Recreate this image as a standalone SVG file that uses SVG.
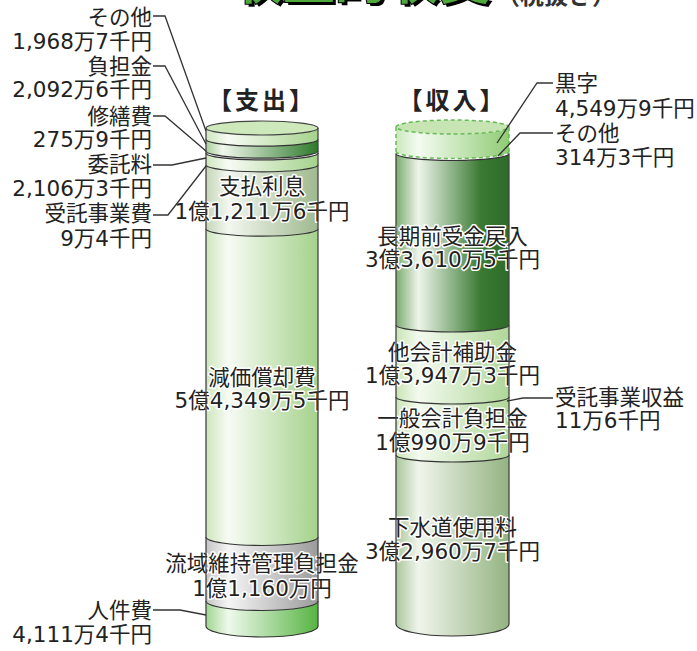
<svg xmlns="http://www.w3.org/2000/svg" width="697" height="651" viewBox="0 0 697 651">
<style>
.t{font-family:"DejaVu Sans","Noto Sans CJK JP",sans-serif;font-size:21.5px;fill:#222}
.e{text-anchor:end}
.m{text-anchor:middle}
.h{stroke:#fff;stroke-width:3;stroke-linejoin:round;paint-order:stroke}
.hd{font-family:"Noto Sans CJK JP",sans-serif;font-size:24px;font-weight:bold;letter-spacing:3px;fill:#222}
.ln{fill:none;stroke:#333;stroke-width:1.2}
.side{fill:none;stroke:#444;stroke-width:1.3}
.dash{fill:none;stroke:#66bb55;stroke-width:1.5;stroke-dasharray:4 3}
.lead{fill:none;stroke:#333;stroke-width:1.3}
</style>
<defs>
<linearGradient id="gLight" x1="0" x2="1" y1="0" y2="0"><stop offset="0" stop-color="#cde6bd"/><stop offset="0.2" stop-color="#f7fbf4"/><stop offset="1" stop-color="#a4d28b"/></linearGradient>
<linearGradient id="gDark" x1="0" x2="1" y1="0" y2="0"><stop offset="0" stop-color="#a8cf98"/><stop offset="0.15" stop-color="#f0f7ec"/><stop offset="1" stop-color="#2d7a2a"/></linearGradient>
<linearGradient id="gLong" x1="0" x2="1" y1="0" y2="0"><stop offset="0" stop-color="#7aab6e"/><stop offset="0.2" stop-color="#eef5ea"/><stop offset="0.75" stop-color="#3a7a33"/><stop offset="1" stop-color="#2c6c27"/></linearGradient>
<linearGradient id="gGG" x1="0" x2="1" y1="0" y2="0"><stop offset="0" stop-color="#c5d6b8"/><stop offset="0.2" stop-color="#f3f7f0"/><stop offset="1" stop-color="#9fb98f"/></linearGradient>
<linearGradient id="gGray" x1="0" x2="1" y1="0" y2="0"><stop offset="0" stop-color="#c4c4c4"/><stop offset="0.2" stop-color="#f5f5f5"/><stop offset="1" stop-color="#9b9b9b"/></linearGradient>
<linearGradient id="gMid" x1="0" x2="1" y1="0" y2="0"><stop offset="0" stop-color="#9fd68f"/><stop offset="0.2" stop-color="#eff9ec"/><stop offset="1" stop-color="#57b443"/></linearGradient>
<linearGradient id="gKuro" x1="0" x2="1" y1="0" y2="0"><stop offset="0" stop-color="#cbe8bc"/><stop offset="0.2" stop-color="#f4fbf1"/><stop offset="1" stop-color="#8fcc74"/></linearGradient>
<linearGradient id="gRL" x1="0" x2="1" y1="0" y2="0"><stop offset="0" stop-color="#c9e5b5"/><stop offset="0.2" stop-color="#f3faef"/><stop offset="1" stop-color="#afd798"/></linearGradient>
<linearGradient id="gGS" x1="0" x2="1" y1="0" y2="0"><stop offset="0" stop-color="#aac79b"/><stop offset="0.2" stop-color="#f0f5ec"/><stop offset="1" stop-color="#93b381"/></linearGradient>
</defs>
<rect width="697" height="651" fill="#fff"/>

<g id="title">
<text x="364" y="2" style="font-family:'Noto Sans CJK JP',sans-serif;font-size:52px;font-weight:bold;text-anchor:middle;fill:#000">収益的収支</text>
<text x="361" y="-1" style="font-family:'Noto Sans CJK JP',sans-serif;font-size:52px;font-weight:bold;text-anchor:middle;fill:#4ea83c;stroke:#000;stroke-width:2;paint-order:stroke">収益的収支</text>
<text x="496" y="4" style="font-family:'Noto Sans CJK JP',sans-serif;font-size:24px;font-weight:bold;fill:#333">（税抜き）</text>
</g>

<g id="expense">
<text x="262" y="109" class="hd m">【支出】</text>
<g id="ex-sonota"><path d="M206,128 A56,7 0 0 0 318,128 V139.2 A56,7 0 0 1 206,139.2 Z" fill="url(#gLight)"/></g>
<g id="ex-futan"><path d="M206,139.2 A56,7 0 0 0 318,139.2 V151.1 A56,7 0 0 1 206,151.1 Z" fill="url(#gDark)"/></g>
<g id="ex-shuzen"><path d="M206,151.1 A56,7 0 0 0 318,151.1 V152.9 A56,7 0 0 1 206,152.9 Z" fill="#fff"/></g>
<g id="ex-itaku"><path d="M206,152.9 A56,7 0 0 0 318,152.9 V164.8 A56,7 0 0 1 206,164.8 Z" fill="url(#gLight)"/></g>
<g id="ex-shiharai"><path d="M206,164.8 A56,7 0 0 0 318,164.8 V228.7 A56,7.5 0 0 1 206,228.7 Z" fill="url(#gGG)"/>
<text x="262" y="194" class="t m h">支払利息</text><text x="262" y="219" class="t m h">1億1,211万6千円</text></g>
<g id="ex-genka"><path d="M206,228.7 A56,7.5 0 0 0 318,228.7 V537 A56,8.5 0 0 1 206,537 Z" fill="url(#gLight)"/>
<text x="262" y="385" class="t m h">減価償却費</text><text x="262" y="408" class="t m h">5億4,349万5千円</text></g>
<g id="ex-ryuiki"><path d="M206,537 A56,8.5 0 0 0 318,537 V601 A56,9.5 0 0 1 206,601 Z" fill="url(#gGray)"/>
<text x="262" y="571" class="t m h">流域維持管理負担金</text><text x="262" y="596" class="t m h">1億1,160万円</text></g>
<g id="ex-jinken"><path d="M206,601 A56,9.5 0 0 0 318,601 V626 A56,11 0 0 1 206,626 Z" fill="url(#gMid)"/></g>
<ellipse cx="262" cy="128" rx="56" ry="7" fill="#cde8bb" stroke="#444" stroke-width="1.2"/>
<path class="ln" d="M206,139.2 A56,7 0 0 0 318,139.2 M206,151.1 A56,7 0 0 0 318,151.1 M206,152.9 A56,7 0 0 0 318,152.9 M206,164.8 A56,7 0 0 0 318,164.8 M206,228.7 A56,7.5 0 0 0 318,228.7 M206,537 A56,8.5 0 0 0 318,537 M206,601 A56,9.5 0 0 0 318,601 M206,626 A56,11 0 0 0 318,626"/>
<path class="side" d="M206,128 V626 M318,128 V626"/>
</g>

<g id="revenue">
<text x="452.5" y="109" class="hd m">【収入】</text>
<g id="rv-kuro"><path d="M396,127 A56.5,7 0 0 0 509,127 V151.5 A56.5,7 0 0 1 396,151.5 Z" fill="url(#gKuro)"/></g>
<g id="rv-sonota"><path d="M396,151.5 A56.5,7 0 0 0 509,151.5 V153.5 A56.5,7 0 0 1 396,153.5 Z" fill="#fff"/></g>
<g id="rv-choki"><path d="M396,153.5 A56.5,7 0 0 0 509,153.5 V325 A56.5,7 0 0 1 396,325 Z" fill="url(#gLong)"/>
<text x="452.5" y="244" class="t m h">長期前受金戻入</text><text x="452.5" y="267" class="t m h">3億3,610万5千円</text></g>
<g id="rv-takaikei"><path d="M396,325 A56.5,7 0 0 0 509,325 V397 A56.5,7 0 0 1 396,397 Z" fill="url(#gRL)"/>
<text x="452.5" y="360" class="t m h">他会計補助金</text><text x="452.5" y="383" class="t m h">1億3,947万3千円</text></g>
<g id="rv-ippan"><path d="M396,397 A56.5,7 0 0 0 509,397 V455 A56.5,7 0 0 1 396,455 Z" fill="url(#gRL)"/>
<text x="452.5" y="426" class="t m h">一般会計負担金</text><text x="452.5" y="450" class="t m h">1億990万9千円</text></g>
<g id="rv-gesui"><path d="M396,455 A56.5,7 0 0 0 509,455 V624 A56.5,12 0 0 1 396,624 Z" fill="url(#gGS)"/>
<text x="452.5" y="535" class="t m h">下水道使用料</text><text x="452.5" y="559" class="t m h">3億2,960万7千円</text></g>
<ellipse cx="452.5" cy="127" rx="56.5" ry="7" fill="#c6e5b3"/>
<path class="dash" d="M396,127 A56.5,7 0 0 1 509,127 A56.5,7 0 0 1 396,127 M396,127 V151.5 M509,127 V151.5 M396,151.5 A56.5,7 0 0 0 509,151.5"/>
<path class="ln" d="M396,153.5 A56.5,7 0 0 0 509,153.5 M396,325 A56.5,7 0 0 0 509,325 M396,397 A56.5,7 0 0 0 509,397 M396,455 A56.5,7 0 0 0 509,455 M396,624 A56.5,12 0 0 0 509,624"/>
<path class="side" d="M396,153.5 V624 M509,153.5 V624"/>
</g>

<g id="connectors">
<path class="lead" d="M153,16 H165 L206,131"/>
<path class="lead" d="M153,66 H165 L206,144"/>
<path class="lead" d="M153,116 H165 L206,151"/>
<path class="lead" d="M153,165 H172 L206,158"/>
<path class="lead" d="M153,215 H168 L206,166"/>
<path class="lead" d="M153,610 H180 L206,615"/>
<path class="lead" d="M553,83 H537 L497,143"/>
<path class="lead" d="M553,133 H520 L498,156"/>
<path class="lead" d="M553,398 H523 L507,401"/>
</g>

<g id="labels">
<text x="152" y="25" class="t e">その他</text>
<text x="152" y="49" class="t e">1,968万7千円</text>
<text x="152" y="74" class="t e">負担金</text>
<text x="152" y="97" class="t e">2,092万6千円</text>
<text x="152" y="124" class="t e">修繕費</text>
<text x="152" y="147" class="t e">275万9千円</text>
<text x="152" y="172" class="t e">委託料</text>
<text x="152" y="196" class="t e">2,106万3千円</text>
<text x="152" y="221" class="t e">受託事業費</text>
<text x="152" y="246" class="t e">9万4千円</text>
<text x="152" y="618" class="t e">人件費</text>
<text x="152" y="642" class="t e">4,111万4千円</text>
<text x="555" y="91" class="t">黒字</text>
<text x="555" y="116" class="t">4,549万9千円</text>
<text x="555" y="141" class="t">その他</text>
<text x="555" y="165" class="t">314万3千円</text>
<text x="555" y="405" class="t">受託事業収益</text>
<text x="555" y="428" class="t">11万6千円</text>
</g>
</svg>
